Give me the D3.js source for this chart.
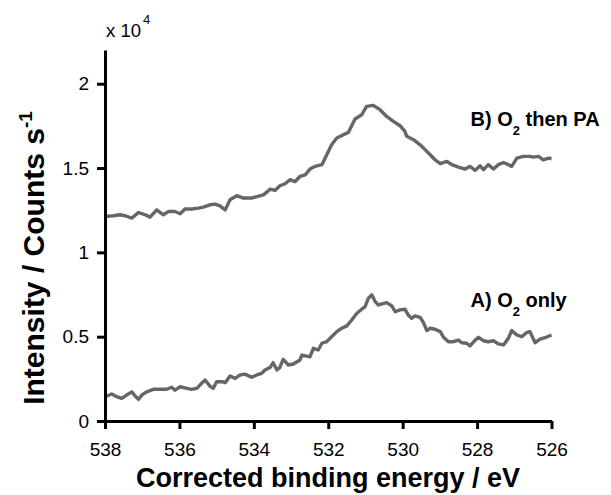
<!DOCTYPE html>
<html>
<head>
<meta charset="utf-8">
<script src="https://cdn.jsdelivr.net/npm/d3@7/dist/d3.min.js"></script>
<style>
  html, body { margin: 0; padding: 0; background: #fff; }
  svg { display: block; font-family: "Liberation Sans", Arial, Helvetica, sans-serif; }
</style>
</head>
<body>
<svg id="chart" width="611" height="495"></svg>
<script>
// Binding energy (eV) and intensity (counts/s)
const energyB = [538.00,537.78,537.60,537.46,537.28,537.10,536.92,536.79,536.61,536.43,536.30,536.12,535.98,535.85,535.67,535.49,535.36,535.18,535.04,534.91,534.77,534.64,534.46,534.28,534.06,533.92,533.74,533.56,533.43,533.30,533.16,533.03,532.89,532.76,532.62,532.49,532.35,532.17,532.04,531.91,531.77,531.59,531.46,531.28,531.10,530.97,530.79,530.61,530.43,530.25,530.07,529.94,529.89,529.71,529.53,529.40,529.26,529.13,528.99,528.81,528.68,528.50,528.32,528.19,528.05,527.92,527.83,527.70,527.56,527.43,527.29,527.16,527.07,526.93,526.76,526.58,526.49,526.35,526.22,526.08,526.00];
const countsB = [12130,12170,12230,12170,12030,12360,12230,12090,12520,12230,12420,12420,12290,12570,12570,12620,12680,12820,12860,12760,12520,13120,13360,13220,13220,13310,13410,13750,13670,13950,14070,14310,14200,14500,14600,14940,15100,15200,15790,16380,16780,16980,17110,17910,18160,18660,18720,18460,18060,17770,17510,17170,16880,16680,16380,16090,15790,15490,15260,15390,15200,15060,14940,15100,14860,15140,14900,15200,14940,15200,15330,15200,15100,15590,15690,15690,15650,15690,15490,15590,15550];

const energyA = [538.00,537.82,537.69,537.55,537.42,537.28,537.19,537.10,537.01,536.88,536.70,536.52,536.34,536.21,536.12,535.98,535.80,535.67,535.53,535.45,535.31,535.18,535.09,535.00,534.86,534.77,534.64,534.50,534.37,534.24,534.06,533.92,533.79,533.70,533.56,533.48,533.38,533.30,533.21,533.07,532.94,532.76,532.71,532.58,532.49,532.40,532.27,532.17,532.04,531.91,531.77,531.64,531.50,531.37,531.23,531.10,531.01,530.92,530.83,530.74,530.65,530.43,530.29,530.20,530.07,529.94,529.85,529.76,529.67,529.53,529.44,529.35,529.26,529.13,528.99,528.90,528.77,528.64,528.50,528.41,528.28,528.19,528.05,527.96,527.83,527.70,527.56,527.43,527.29,527.16,527.07,526.93,526.80,526.67,526.58,526.44,526.31,526.13,526.00];
const countsA = [1440,1600,1440,1340,1540,1730,1480,1280,1540,1730,1880,1880,1880,2000,1830,2030,1940,1880,1940,2130,2430,2070,1940,2330,2330,2270,2670,2530,2730,2780,2590,2730,2830,3020,3180,3460,3020,3180,3660,3320,3380,3620,3910,3850,3810,4310,4210,4610,4710,5000,5300,5500,5640,5990,6390,6630,6780,7280,7480,7080,6880,7020,6820,6480,6590,6630,6290,6090,6230,6150,5830,5360,5500,5440,5300,4960,4700,4700,4800,4640,4610,4450,4800,4960,4760,4700,4760,4570,4510,4900,5360,5100,5000,5240,5300,4640,4860,4980,5100];

const xTicks = [538, 536, 534, 532, 530, 528, 526];
const yTicks = [0, 5000, 10000, 15000, 20000];
const yTickLabels = ["0", "0.5", "1", "1.5", "2"];

const svg = d3.select("#chart");
const x = d3.scaleLinear().domain([538, 526]).range([105, 551.5]);
const y = d3.scaleLinear().domain([0, 22000]).range([421, 50]);

const line = d3.line().x(d => x(d[0])).y(d => y(d[1]));
const seriesB = energyB.map((e, i) => [e, countsB[i]]);
const seriesA = energyA.map((e, i) => [e, countsA[i]]);

[seriesB, seriesA].forEach(s => {
  svg.append("path").datum(s)
    .attr("d", line)
    .attr("fill", "none")
    .attr("stroke", "#666666")
    .attr("stroke-width", 3.4)
    .attr("stroke-linejoin", "round");
});

// Axes
const yAxis = d3.axisLeft(y).tickValues(yTicks)
  .tickFormat((d, i) => yTickLabels[i]).tickSize(8).tickSizeOuter(0).tickPadding(8);
const gy = svg.append("g").attr("transform", "translate(105,0)").call(yAxis);

const xAxis = d3.axisBottom(x).tickValues(xTicks).tickFormat(d => d).tickSize(8).tickSizeOuter(0).tickPadding(14);
const gx = svg.append("g").attr("transform", "translate(0,421)").call(xAxis);

[gx, gy].forEach(g => {
  g.select(".domain").attr("stroke", "#000").attr("stroke-width", 3);
  g.selectAll(".tick line").attr("stroke", "#000").attr("stroke-width", 3);
  g.selectAll(".tick text").attr("fill", "#000").attr("font-size", 19)
    .attr("font-family", "'Liberation Sans', Arial, sans-serif");
});

// Exponent label
const ex = svg.append("text").attr("x", 106).attr("y", 37).attr("font-size", 18.5).attr("fill", "#000");
ex.append("tspan").text("x 10");
ex.append("tspan").attr("font-size", 13).attr("dy", -13).attr("dx", 2).text("4");

// Axis titles
svg.append("text").attr("x", 328).attr("y", 487).attr("text-anchor", "middle")
  .attr("font-size", 27).attr("font-weight", "bold").attr("fill", "#000")
  .text("Corrected binding energy / eV");

const yl = svg.append("text").attr("transform", "translate(44,258) rotate(-90)")
  .attr("text-anchor", "middle").attr("font-size", 30).attr("font-weight", "bold").attr("fill", "#000");
yl.append("tspan").text("Intensity / Counts s");
yl.append("tspan").attr("font-size", 19).attr("dy", -12).text("-1");

// Series labels
function seriesLabel(xp, yp, pre, post) {
  const t = svg.append("text").attr("x", xp).attr("y", yp)
    .attr("font-size", 20).attr("font-weight", "bold").attr("fill", "#000");
  t.append("tspan").text(pre);
  t.append("tspan").attr("font-size", 13).attr("dy", 9).text("2");
  t.append("tspan").attr("dy", -9).text(post);
}
seriesLabel(470.5, 125.5, "B) O", " then PA");
seriesLabel(470.5, 306.5, "A) O", " only");
</script>
</body>
</html>
